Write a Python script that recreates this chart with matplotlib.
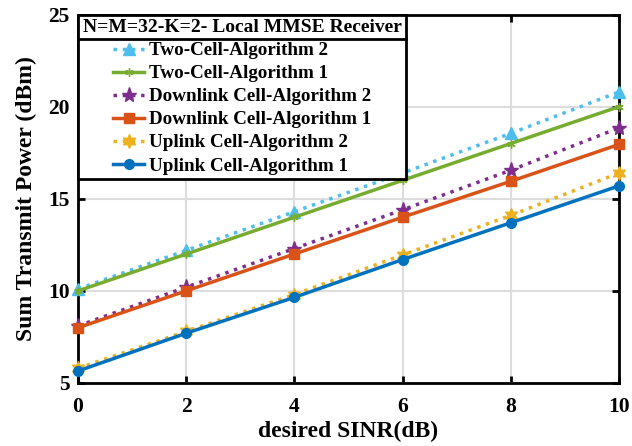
import matplotlib
matplotlib.use("Agg")
import matplotlib.pyplot as plt
from matplotlib.lines import Line2D

plt.rcParams['font.family'] = ['Liberation Serif', 'DejaVu Serif']
plt.rcParams['font.weight'] = 'bold'

sinr = [0, 2, 4, 6, 8, 10]
two_cell_alg2 = [10.1, 12.2, 14.3, 16.4, 18.55, 20.8]
two_cell_alg1 = [10.0, 12.0, 14.0, 16.0, 18.0, 20.0]
down_alg2 = [8.1, 10.2, 12.3, 14.4, 16.55, 18.85]
down_alg1 = [8.0, 10.0, 12.0, 14.0, 15.95, 17.95]
up_alg2 = [5.8, 7.8, 9.8, 11.95, 14.1, 16.4]
up_alg1 = [5.65, 7.7, 9.65, 11.7, 13.7, 15.7]

labels = ["Two-Cell-Algorithm 2", "Two-Cell-Algorithm 1",
          "Downlink Cell-Algorithm 2", "Downlink Cell-Algorithm 1",
          "Uplink Cell-Algorithm 2", "Uplink Cell-Algorithm 1"]
series = [two_cell_alg2, two_cell_alg1, down_alg2, down_alg1, up_alg2, up_alg1]
colors = ['#4DBEEE', '#77AC30', '#7E2F8E', '#D95319', '#EDB120', '#0072BD']
styles = [':', '-', ':', '-', ':', '-']
markers = ['^', (6, 2, 0), '*', 's', (6, 1, 0), 'o']
msizes = [8, 6, 11, 7, 10, 7]

fig = plt.figure(figsize=(6.32, 4.46), dpi=100)
ax = fig.add_axes([0.1234, 0.1413, 0.856, 0.826])

for y, lab, c, ls, m, ms in zip(series, labels, colors, styles, markers, msizes):
    ax.plot(sinr, y, linestyle=ls, color=c, marker=m, markersize=ms,
            linewidth=2.5, label=lab, clip_on=False, zorder=3)

ax.set_xlim(0, 10)
ax.set_ylim(5, 25)
ax.set_xticks([0, 2, 4, 6, 8, 10])
ax.set_yticks([5, 10, 15, 20, 25])
ax.grid(True, color='#dddddd', linewidth=1.5)
ax.set_axisbelow(True)
for s in ax.spines.values():
    s.set_linewidth(2)
ax.tick_params(direction='in', length=5, width=2, top=True, right=True,
               labelsize=15.5)
ax.tick_params(axis='x', pad=10)
ax.tick_params(axis='y', pad=6)
for t in ax.get_xticklabels() + ax.get_yticklabels():
    t.set_fontweight('bold')
ax.set_xlabel('desired SINR(dB)', fontsize=17, fontweight='bold', labelpad=3)
ax.set_ylabel('Sum Transmit Power (dBm)', fontsize=17, fontweight='bold', labelpad=8)

leg = ax.legend(loc='upper left', bbox_to_anchor=(0, 1), borderaxespad=0,
                title='N=M=32-K=2- Local MMSE Receiver',
                prop={'size': 13.7, 'weight': 'bold'}, frameon=True,
                fancybox=False, edgecolor='black', framealpha=1,
                handlelength=1.6, handletextpad=0.25, labelspacing=0.3,
                borderpad=0.25, alignment='center')
leg.get_title().set_fontsize(14)
leg.get_title().set_fontweight('bold')
leg.get_frame().set_linewidth(2)
leg.set_zorder(5)

fig.canvas.draw()
r = fig.canvas.get_renderer()
tb = leg.get_title().get_window_extent(r)
hb = leg._legend_handle_box.get_window_extent(r)
fb = leg.get_frame().get_window_extent(r)
inv = fig.transFigure.inverted()
ysep = inv.transform((0, (tb.y0 + hb.y1) / 2))[1]
x0 = inv.transform((fb.x0, 0))[0]
x1 = inv.transform((fb.x1, 0))[0]
fig.add_artist(Line2D([x0, x1], [ysep, ysep], color='black', linewidth=2, zorder=10))

fig.savefig('out.png', dpi=100)
